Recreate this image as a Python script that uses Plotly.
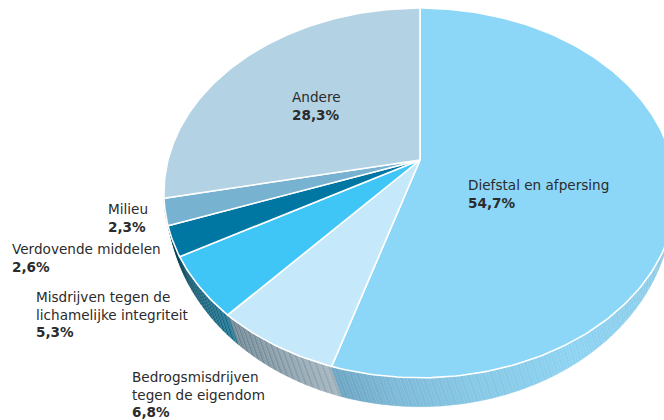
import numpy as np
import plotly.graph_objects as go

categories = ["Diefstal en afpersing", "Bedrogsmisdrijven tegen de eigendom",
              "Misdrijven tegen de lichamelijke integriteit", "Verdovende middelen",
              "Milieu", "Andere"]
shares = [54.7, 6.8, 5.3, 2.6, 2.3, 28.3]
share_labels = ["54,7%", "6,8%", "5,3%", "2,6%", "2,3%", "28,3%"]
label_lines = [["Diefstal en afpersing"], ["Bedrogsmisdrijven", "tegen de eigendom"],
               ["Misdrijven tegen de", "lichamelijke integriteit"], ["Verdovende middelen"],
               ["Milieu"], ["Andere"]]
face_colors = ["#8CD7F8", "#C5E9FA", "#40C6F6", "#0076A3", "#77B2D0", "#B3D3E5"]

# view of the tilted disc
CX, CY = 420, 160
K, A, B = 0.178, 252, 179
TOP = (193, 256, 185)
BOT = (204, 252, 203)
SKEW = 2.0

def project(deg):
    t = np.radians(deg)
    x, y = np.sin(t), np.cos(t)
    w = 1 + K * y
    return CX + A * x / w, CY - B * y / w

def lower(deg):
    px, py = project(deg - SKEW)
    ex, ey = (px - CX) / TOP[1], (py - TOP[0]) / TOP[2]
    return CX + BOT[1] * ex, BOT[0] + BOT[2] * ey

# side shading stops: sweep angle -> rgb
shade_deg = [95, 105, 125, 150, 170, 185, 196.9, 196.95, 221.3, 221.4, 240, 250, 260]
shade_rgb = np.array([
    [150, 185, 205], [148, 187, 207], [140, 205, 234], [140, 211, 242], [133, 200, 230],
    [124, 185, 216], [107, 165, 195], [157, 176, 187], [102, 128, 142], [15, 108, 140],
    [3, 71, 95], [0, 60, 82], [0, 60, 82]], float)

def shade(deg, odd):
    c = [np.interp(deg, shade_deg, shade_rgb[:, i]) for i in range(3)]
    amp = 0.14 if 197 < deg < 240 else 0.03
    if odd:
        c = [v + (255 - v) * amp for v in c]
    return "rgb(%d,%d,%d)" % tuple(int(v) for v in c)

fig = go.Figure()

# sides
step = 0.7
for i, d in enumerate(np.arange(95, 258, step)):
    ax, ay = project(d)
    bx, by = project(d + step)
    lax, lay = lower(d)
    lbx, lby = lower(d + step)
    col = shade(d + step / 2, i % 2 == 1)
    fig.add_trace(go.Scatter(x=[ax, bx, lbx, lax, ax], y=[ay, by, lby, lay, ay],
                             mode="lines", fill="toself", fillcolor=col,
                             line=dict(color=col, width=0.3), hoverinfo="skip", showlegend=False))

# faces
edges = np.cumsum([0] + shares) * 3.6
for i, name in enumerate(categories):
    ds = np.linspace(edges[i], edges[i + 1], max(3, int(shares[i] * 4)))
    px, py = project(ds)
    fig.add_trace(go.Scatter(x=np.r_[CX, px, CX], y=np.r_[CY, py, CY], mode="lines", fill="toself",
                             fillcolor=face_colors[i], line=dict(color="white", width=1.6),
                             name=name, hoverinfo="name", showlegend=False))

# labels: left x, centre y of first line
label_pos = [(467, 186), (131, 378), (35, 298), (11, 250), (107, 210), (291, 98)]
PITCH = 16.6
for lines, share, (lx, ly) in zip(label_lines, share_labels, label_pos):
    fig.add_annotation(x=lx, y=ly + len(lines) * PITCH / 2,
                       text="<br>".join(lines + ["<b>%s</b>" % share]), showarrow=False,
                       xanchor="left", yanchor="middle", align="left", borderpad=0,
                       font=dict(family="DejaVu Sans", size=13.6, color="#2b2b2b"))

fig.update_layout(width=664, height=420, margin=dict(l=0, r=0, t=0, b=0),
                  paper_bgcolor="white", plot_bgcolor="white",
                  xaxis=dict(range=[0, 664], visible=False, fixedrange=True),
                  yaxis=dict(range=[420, 0], visible=False, fixedrange=True))
fig.write_html("out.html", config={"displayModeBar": False},
               post_script="document.body.style.margin='0';document.documentElement.style.overflow='hidden';")
